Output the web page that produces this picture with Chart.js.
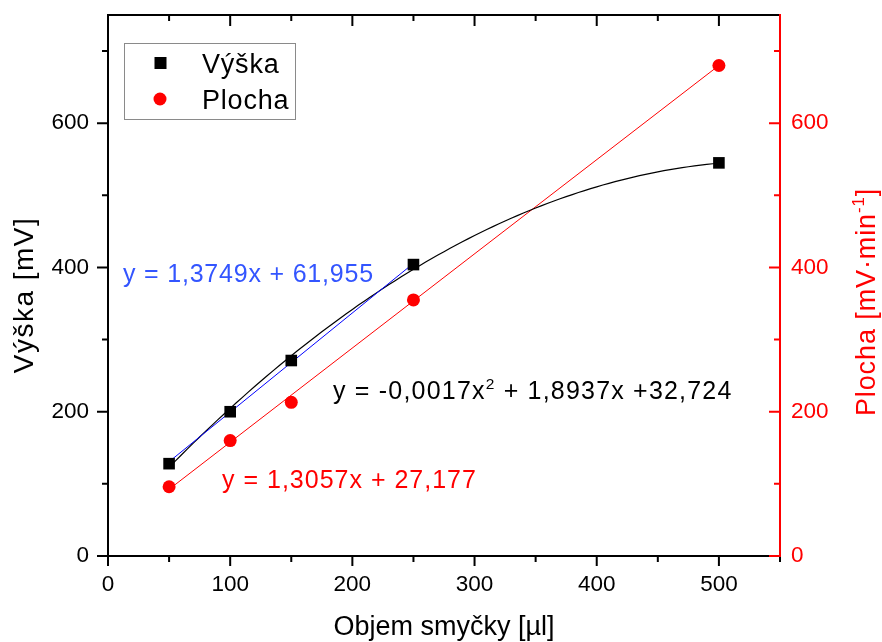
<!DOCTYPE html>
<html>
<head>
<meta charset="utf-8">
<script src="https://cdn.jsdelivr.net/npm/chart.js@4.4.1/dist/chart.umd.min.js"></script>
<style>
  html, body { margin: 0; padding: 0; background: #fff; }
  #wrap { width: 882px; height: 642px; }
</style>
</head>
<body>
<div id="wrap"><canvas id="chart" width="882" height="642"></canvas></div>
<script>
// loop volume [µl] and measured responses
const volumes = [50, 100, 150, 250, 500];
const vyska = [128, 200, 271, 404, 545];   // peak height [mV]
const plocha = [96, 160, 213, 355, 680];   // peak area [mV·min-1]

// fitted curves: a, b, c for the quadratic, slope/intercept for the lines
const vyskaQuad = [-0.00174, 1.8937, 32.724];
const vyskaLin = [1.3749, 61.955];   // first four points only
const plochaLin = [1.3057, 27.177];

const FONT = '"Liberation Sans", Arial, sans-serif';
const RED = '#ff0000';
const BLUE = '#3355ff';

function quadPoints(c, from, to, step) {
  const pts = [];
  for (let x = from; x <= to; x += step) pts.push({ x, y: c[0] * x * x + c[1] * x + c[2] });
  return pts;
}
function linePoints(c, from, to) {
  return [from, to].map(x => ({ x, y: c[0] * x + c[1] }));
}
const pairs = (xs, ys) => xs.map((x, i) => ({ x, y: ys[i] }));

// text with superscript pieces
function runWidth(ctx, parts, size, spacing) {
  let w = 0;
  ctx.letterSpacing = (spacing || 0) + 'px';
  for (const p of parts) {
    ctx.font = (p.sup ? size * 0.62 : size) + 'px ' + FONT;
    w += ctx.measureText(p.t).width;
  }
  return w;
}
function drawRun(ctx, parts, x, y, size, spacing) {
  ctx.letterSpacing = (spacing || 0) + 'px';
  for (const p of parts) {
    ctx.font = (p.sup ? size * 0.62 : size) + 'px ' + FONT;
    ctx.fillText(p.t, x, p.sup ? y - size * 0.42 : y);
    x += ctx.measureText(p.t).width;
  }
  ctx.letterSpacing = '0px';
}

const framePlugin = {
  id: 'frame',
  beforeDatasetsDraw(chart) {
    const { ctx, chartArea: a, scales } = chart;
    const sx = scales.x, sy = scales.y, sy2 = scales.y2;
    ctx.save();
    ctx.lineWidth = 2;
    ctx.strokeStyle = '#000';
    ctx.beginPath();
    ctx.moveTo(a.left, a.bottom + 1);
    ctx.lineTo(a.left, a.top);
    ctx.lineTo(a.right, a.top);
    ctx.moveTo(a.left - 1, a.bottom);
    ctx.lineTo(a.right, a.bottom);
    for (let v = sx.min; v <= sx.max; v += 50) {
      const px = sx.getPixelForValue(v);
      const major = v % 100 === 0;
      ctx.moveTo(px, a.bottom);
      ctx.lineTo(px, a.bottom + (major ? 10 : 6));
      if (v > sx.min && v < sx.max) {
        ctx.moveTo(px, a.top);
        ctx.lineTo(px, a.top + (major ? 11 : 6));
      }
    }
    for (let v = 0; v < sy.max; v += 100) {
      const py = sy.getPixelForValue(v);
      ctx.moveTo(a.left, py);
      ctx.lineTo(a.left - (v % 200 === 0 ? 11 : 6), py);
    }
    ctx.stroke();

    ctx.strokeStyle = RED;
    ctx.beginPath();
    ctx.moveTo(a.right, a.bottom + 1);
    ctx.lineTo(a.right, a.top - 1);
    for (let v = 0; v < sy2.max; v += 100) {
      const py = sy2.getPixelForValue(v);
      ctx.moveTo(a.right, py);
      ctx.lineTo(a.right - (v % 200 === 0 ? 11 : 6), py);
    }
    ctx.stroke();
    ctx.restore();
  },
  afterDraw(chart) {
    const { ctx, chartArea: a } = chart;
    ctx.save();
    ctx.textBaseline = 'alphabetic';

    // axis titles
    ctx.fillStyle = '#000';
    ctx.font = '27px ' + FONT;
    ctx.textAlign = 'center';
    ctx.fillText('Objem smyčky [µl]', (a.left + a.right) / 2, 635);
    ctx.textAlign = 'left';

    const leftTitle = [{ t: 'Výška [mV]' }];
    ctx.save();
    ctx.translate(33, 295);
    ctx.rotate(-Math.PI / 2);
    const lw = runWidth(ctx, leftTitle, 28, 1.5);
    drawRun(ctx, leftTitle, -lw / 2, 0, 28, 1.5);
    ctx.restore();

    const rightTitle = [{ t: 'Plocha [mV·min' }, { t: '-1', sup: true }, { t: ']' }];
    ctx.save();
    ctx.fillStyle = RED;
    ctx.translate(875, 302);
    ctx.rotate(-Math.PI / 2);
    const rw = runWidth(ctx, rightTitle, 27, 0.9);
    drawRun(ctx, rightTitle, -rw / 2, 0, 27, 0.9);
    ctx.restore();

    // fit equations
    ctx.fillStyle = BLUE;
    drawRun(ctx, [{ t: 'y = 1,3749x + 61,955' }], 123, 282, 25, 0.8);
    ctx.fillStyle = '#000';
    drawRun(ctx, [{ t: 'y = -0,0017x' }, { t: '2', sup: true }, { t: ' + 1,8937x +32,724' }], 333, 399, 25, 1.2);
    ctx.fillStyle = RED;
    drawRun(ctx, [{ t: 'y = 1,3057x + 27,177' }], 222, 488, 25, 1.0);

    // legend box
    ctx.strokeStyle = '#8a8a8a';
    ctx.lineWidth = 1;
    ctx.strokeRect(124.5, 43.5, 171, 76);
    ctx.fillStyle = '#000';
    ctx.fillRect(154.5, 57, 12, 12);
    ctx.fillStyle = RED;
    ctx.beginPath();
    ctx.arc(160, 99, 6.5, 0, Math.PI * 2);
    ctx.fill();
    ctx.fillStyle = '#000';
    drawRun(ctx, [{ t: 'Výška' }], 202, 73, 27, 0.8);
    drawRun(ctx, [{ t: 'Plocha' }], 202, 109, 27, 0.8);
    ctx.restore();
  }
};

const tickFont = { family: FONT, size: 22.5 };

new Chart(document.getElementById('chart'), {
  type: 'scatter',
  data: {
    datasets: [
      {
        label: 'Výška',
        data: pairs(volumes, vyska),
        yAxisID: 'y',
        pointStyle: 'rect',
        pointRadius: 8.2,
        pointBackgroundColor: '#000',
        pointBorderWidth: 0
      },
      {
        label: 'Plocha',
        data: pairs(volumes, plocha),
        yAxisID: 'y2',
        pointStyle: 'circle',
        pointRadius: 6.5,
        pointBackgroundColor: RED,
        pointBorderWidth: 0
      },
      {
        label: 'Výška lineární',
        data: linePoints(vyskaLin, volumes[0], volumes[3]),
        yAxisID: 'y',
        showLine: true,
        borderColor: '#0000ff',
        borderWidth: 1,
        pointRadius: 0
      },
      {
        label: 'Výška polynom',
        data: quadPoints(vyskaQuad, volumes[0], volumes[4], 5),
        yAxisID: 'y',
        showLine: true,
        borderColor: '#000',
        borderWidth: 1.2,
        pointRadius: 0
      },
      {
        label: 'Plocha lineární',
        data: linePoints(plochaLin, volumes[0], volumes[4]),
        yAxisID: 'y2',
        showLine: true,
        borderColor: RED,
        borderWidth: 1,
        pointRadius: 0
      }
    ]
  },
  options: {
    responsive: false,
    animation: false,
    layout: { padding: { top: 15, left: 0, right: 0, bottom: 0 } },
    plugins: { legend: { display: false }, tooltip: { enabled: false } },
    scales: {
      x: {
        type: 'linear',
        min: 0,
        max: 550,
        grid: { display: false, drawTicks: false },
        border: { display: false },
        ticks: { stepSize: 100, includeBounds: false, padding: 15, color: '#000', font: tickFont },
        afterFit(s) { s.height = 86; s.paddingLeft = 0; s.paddingRight = 0; }
      },
      y: {
        type: 'linear',
        position: 'left',
        min: 0,
        max: 750,
        grid: { display: false, drawTicks: false },
        border: { display: false },
        ticks: { stepSize: 200, includeBounds: false, padding: 19, color: '#000', font: tickFont },
        afterFit(s) { s.width = 108; s.paddingTop = 0; s.paddingBottom = 0; }
      },
      y2: {
        type: 'linear',
        position: 'right',
        min: 0,
        max: 750,
        grid: { display: false, drawTicks: false },
        border: { display: false },
        ticks: { stepSize: 200, includeBounds: false, padding: 11, color: RED, font: tickFont },
        afterFit(s) { s.width = 102; s.paddingTop = 0; s.paddingBottom = 0; }
      }
    }
  },
  plugins: [framePlugin]
});
</script>
</body>
</html>
